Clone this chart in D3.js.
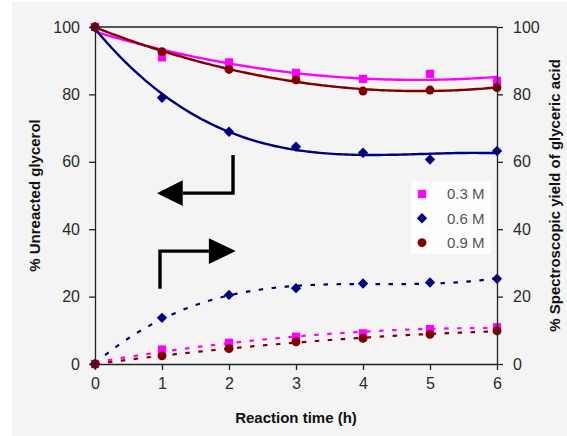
<!DOCTYPE html>
<html>
<head>
<meta charset="utf-8">
<script src="https://cdn.jsdelivr.net/npm/d3@7"></script>
<style>
  html, body { margin: 0; padding: 0; background: #ffffff; }
  svg { display: block; font-family: "Liberation Sans", Arial, sans-serif; }
</style>
</head>
<body>
<svg id="chart" width="567" height="436"></svg>
<script>
// Reaction time (h)
const hours = [0, 1, 2, 3, 4, 5, 6];

// % unreacted glycerol (left axis)
const glycerol03 = [100, 91.0, 89.5, 86.4, 84.6, 86.1, 84.0];
const glycerol06 = [100, 79.0, 68.9, 64.5, 62.7, 60.7, 63.2];
const glycerol09 = [100, 92.7, 87.4, 84.3, 81.0, 81.3, 82.0];

// % spectroscopic yield of glyceric acid (right axis)
const yield03 = [0, 4.3, 6.3, 8.1, 9.1, 10.4, 10.9];
const yield06 = [0, 13.7, 20.5, 22.5, 23.9, 24.2, 25.3];
const yield09 = [0, 2.4, 4.6, 6.6, 7.6, 8.8, 9.8];

// Polynomial order of each trend line
const trendOrder = { "0.3 M": 2, "0.6 M": 3, "0.9 M": 2 };

const concentrations = ["0.3 M", "0.6 M", "0.9 M"];
const xTicks = [0, 1, 2, 3, 4, 5, 6];
const yTicks = [0, 20, 40, 60, 80, 100];

const W = 567, H = 436;
const margin = { top: 27, right: 70, bottom: 72, left: 95 };

const svg = d3.select("#chart");

const x = d3.scaleLinear().domain([0, 6]).range([margin.left, W - margin.right]);
const yL = d3.scaleLinear().domain([0, 100]).range([H - margin.bottom, margin.top]);
const yR = d3.scaleLinear().domain([0, 100]).range([H - margin.bottom, margin.top]);

const colour = d3.scaleOrdinal().domain(concentrations).range(["#ff00ff", "#000080", "#800000"]);
const shape = d3.scaleOrdinal().domain(concentrations).range(["square", "diamond", "circle"]);

// page background
svg.append("rect")
  .attr("x", 12).attr("y", 2)
  .attr("width", W - 12).attr("height", H - 2)
  .attr("fill", "#f4f4f4");

// least-squares polynomial fit (normal equations, Gaussian elimination)
function polyfit(xs, ys, order) {
  const n = order + 1;
  const A = d3.range(n).map(i => d3.range(n).map(j => d3.sum(xs, v => Math.pow(v, i + j))));
  const b = d3.range(n).map(i => d3.sum(xs, (v, k) => ys[k] * Math.pow(v, i)));
  for (let c = 0; c < n; c++) {
    let p = c;
    for (let r = c + 1; r < n; r++) if (Math.abs(A[r][c]) > Math.abs(A[p][c])) p = r;
    [A[c], A[p]] = [A[p], A[c]];
    [b[c], b[p]] = [b[p], b[c]];
    for (let r = c + 1; r < n; r++) {
      const f = A[r][c] / A[c][c];
      for (let k = c; k < n; k++) A[r][k] -= f * A[c][k];
      b[r] -= f * b[c];
    }
  }
  const coef = new Array(n).fill(0);
  for (let r = n - 1; r >= 0; r--) {
    let s = b[r];
    for (let k = r + 1; k < n; k++) s -= A[r][k] * coef[k];
    coef[r] = s / A[r][r];
  }
  return t => coef.reduce((acc, c, i) => acc + c * Math.pow(t, i), 0);
}

const glycerolSeries = [
  { name: "0.3 M", values: glycerol03 },
  { name: "0.6 M", values: glycerol06 },
  { name: "0.9 M", values: glycerol09 }
];
const yieldSeries = [
  { name: "0.3 M", values: yield03 },
  { name: "0.6 M", values: yield06 },
  { name: "0.9 M", values: yield09 }
];

const tGrid = d3.range(0, 6.0001, 0.05);

function trend(series, scale) {
  const f = polyfit(hours, series.values, trendOrder[series.name]);
  return d3.line().x(t => x(t)).y(t => scale(f(t)))(tGrid);
}

const plot = svg.append("g");

// trend lines: solid for glycerol, dashed for yield
plot.selectAll("path.glyTrend")
  .data(glycerolSeries)
  .join("path")
  .attr("class", "glyTrend")
  .attr("d", s => trend(s, yL))
  .attr("fill", "none")
  .attr("stroke", s => colour(s.name))
  .attr("stroke-width", 2.4);

plot.selectAll("path.yieldTrend")
  .data(yieldSeries)
  .join("path")
  .attr("class", "yieldTrend")
  .attr("d", s => trend(s, yR))
  .attr("fill", "none")
  .attr("stroke", s => colour(s.name))
  .attr("stroke-width", 2.2)
  .attr("stroke-dasharray", "4.5,8.5");

// markers
const symbolPath = {
  square: d3.symbol().type(d3.symbolSquare).size(68)(),
  diamond: d3.symbol().type(d3.symbolSquare).size(54)(),
  circle: d3.symbol().type(d3.symbolCircle).size(62)()
};
function markerTransform(name, cx, cy) {
  return shape(name) === "diamond"
    ? `translate(${cx},${cy}) rotate(45)`
    : `translate(${cx},${cy})`;
}

function drawMarkers(series, scale, cls) {
  series.forEach(s => {
    plot.selectAll(`path.${cls}-${s.name.replace(/\W/g, "")}`)
      .data(s.values)
      .join("path")
      .attr("class", `${cls}-${s.name.replace(/\W/g, "")}`)
      .attr("d", symbolPath[shape(s.name)])
      .attr("transform", (v, i) => markerTransform(s.name, x(hours[i]), scale(v)))
      .attr("fill", colour(s.name));
  });
}
drawMarkers(yieldSeries, yR, "ym");
drawMarkers(glycerolSeries, yL, "gm");

// plot frame (top edge)
svg.append("line")
  .attr("x1", x(0)).attr("x2", x(6))
  .attr("y1", yL(100)).attr("y2", yL(100))
  .attr("stroke", "#222").attr("stroke-width", 1.3);

// axes
function styleAxis(g) {
  g.selectAll("path.domain").attr("stroke", "#222").attr("stroke-width", 1.3);
  g.selectAll(".tick line").attr("stroke", "#222").attr("stroke-width", 1.3);
  g.selectAll(".tick text")
    .attr("fill", "#2a2a2a")
    .style("font-size", "16px")
    .style("font-family", "\"Liberation Sans\", Arial, sans-serif");
}

const intFormat = d3.format("d");

svg.append("g")
  .attr("transform", `translate(0,${yL(0)})`)
  .call(d3.axisBottom(x).tickValues(xTicks).tickFormat(intFormat)
    .tickSize(6).tickSizeOuter(0).tickPadding(8))
  .call(styleAxis);

svg.append("g")
  .attr("transform", `translate(${x(0)},0)`)
  .call(d3.axisLeft(yL).tickValues(yTicks).tickFormat(intFormat)
    .tickSize(6).tickSizeOuter(0).tickPadding(9))
  .call(styleAxis);

svg.append("g")
  .attr("transform", `translate(${x(6)},0)`)
  .call(d3.axisRight(yR).tickValues(yTicks).tickFormat(intFormat)
    .tickSize(6).tickSizeOuter(0).tickPadding(10))
  .call(styleAxis);

// axis titles
const titleStyle = sel => sel
  .attr("fill", "#111")
  .attr("font-weight", "bold")
  .style("font-size", "15px")
  .attr("text-anchor", "middle");

svg.append("text")
  .attr("transform", `translate(35,${(yL(0) + yL(100)) / 2}) rotate(-90)`)
  .attr("dy", "0.35em")
  .text("% Unreacted glycerol")
  .call(titleStyle);

svg.append("text")
  .attr("transform", `translate(555,${(yR(0) + yR(100)) / 2}) rotate(-90)`)
  .attr("dy", "0.35em")
  .text("% Spectroscopic yield of glyceric acid")
  .call(titleStyle);

svg.append("text")
  .attr("x", (x(0) + x(6)) / 2)
  .attr("y", 418)
  .attr("dy", "0.35em")
  .text("Reaction time (h)")
  .call(titleStyle);

// bent arrows pointing each group of curves to its axis (data units)
const arrows = [
  { path: [[2.06, 62.0], [2.06, 50.7], [1.31, 50.7]], tip: [0.925, 50.7], base: 1.31 },
  { path: [[0.97, 22.3], [0.97, 33.5], [1.70, 33.5]], tip: [2.10, 33.5], base: 1.70 }
];
const headHalf = 3.8;
const ann = svg.append("g");
arrows.forEach(a => {
  ann.append("path")
    .attr("d", d3.line().x(p => x(p[0])).y(p => yL(p[1]))(a.path))
    .attr("fill", "none")
    .attr("stroke", "#000")
    .attr("stroke-width", 3.4)
    .attr("stroke-linejoin", "miter");
  ann.append("path")
    .attr("d", d3.line().x(p => x(p[0])).y(p => yL(p[1]))([
      a.tip, [a.base, a.tip[1] + headHalf], [a.base, a.tip[1] - headHalf]
    ]) + "Z")
    .attr("fill", "#000");
});

// legend
const legend = svg.append("g");
legend.append("rect")
  .attr("x", 411).attr("y", 181)
  .attr("width", 80).attr("height", 73)
  .attr("fill", "#fdfdfd");
concentrations.forEach((c, i) => {
  const cy = 194 + i * 24.3;
  legend.append("path")
    .attr("d", symbolPath[shape(c)])
    .attr("transform", markerTransform(c, 422, cy))
    .attr("fill", colour(c));
  legend.append("text")
    .attr("x", 447).attr("y", cy)
    .attr("dy", "0.35em")
    .attr("fill", "#555")
    .style("font-size", "15px")
    .text(c);
});
</script>
</body>
</html>
